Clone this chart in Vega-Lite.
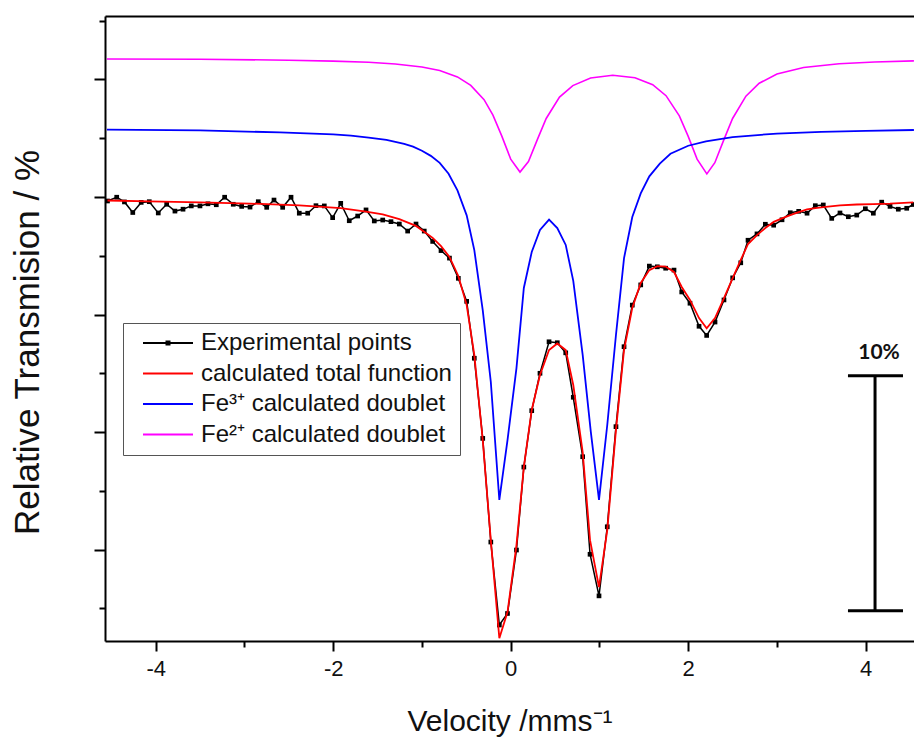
{
  "$schema": "https://vega.github.io/schema/vega-lite/v6.json",
  "width": 809,
  "height": 625,
  "autosize": "none",
  "padding": {"left": 105, "top": 16, "right": 0, "bottom": 106},
  "background": "white",
  "config": {
    "view": {"stroke": null},
    "font": "Liberation Sans",
    "legend": {
      "orient": "none", "legendX": 18, "legendY": 307,
      "fillColor": "white", "strokeColor": "#555555", "padding": 8,
      "symbolType": "stroke", "symbolSize": 2500, "symbolStrokeWidth": 2, "symbolOffset": 11,
      "labelFontSize": 24, "labelFont": "Liberation Sans", "labelColor": "#111111", "labelOffset": 7,
      "clipHeight": 24, "rowPadding": 6.5, "labelLimit": 400
    }
  },
  "datasets": {
    "exp": [
      {"v":-4.543,"t":99.83},{"v":-4.439,"t":99.99},{"v":-4.352,"t":99.79},{"v":-4.258,"t":99.34},{"v":-4.163,"t":99.77},{"v":-4.072,"t":99.80},{"v":-3.971,"t":99.32},{"v":-3.876,"t":99.69},{"v":-3.783,"t":99.40},{"v":-3.692,"t":99.48},{"v":-3.599,"t":99.62},{"v":-3.501,"t":99.62},{"v":-3.411,"t":99.71},{"v":-3.317,"t":99.67},{"v":-3.223,"t":99.99},{"v":-3.126,"t":99.69},{"v":-3.031,"t":99.60},{"v":-2.937,"t":99.57},{"v":-2.844,"t":99.80},{"v":-2.749,"t":99.56},{"v":-2.667,"t":99.87},{"v":-2.569,"t":99.56},{"v":-2.475,"t":99.99},{"v":-2.382,"t":99.31},{"v":-2.287,"t":99.31},{"v":-2.194,"t":99.63},{"v":-2.100,"t":99.62},{"v":-2.006,"t":99.12},{"v":-1.915,"t":99.73},{"v":-1.819,"t":98.99},{"v":-1.724,"t":99.19},{"v":-1.630,"t":99.45},{"v":-1.537,"t":98.98},{"v":-1.442,"t":99.02},{"v":-1.349,"t":98.95},{"v":-1.255,"t":98.85},{"v":-1.161,"t":98.55},{"v":-1.067,"t":98.85},{"v":-0.974,"t":98.55},{"v":-0.879,"t":98.11},{"v":-0.785,"t":97.72},{"v":-0.690,"t":97.40},{"v":-0.590,"t":96.54},{"v":-0.496,"t":95.56},{"v":-0.410,"t":93.14},{"v":-0.315,"t":89.73},{"v":-0.224,"t":85.32},{"v":-0.128,"t":81.79},{"v":-0.036,"t":82.28},{"v":0.065,"t":84.98},{"v":0.148,"t":88.51},{"v":0.237,"t":90.91},{"v":0.330,"t":92.50},{"v":0.432,"t":93.84},{"v":0.525,"t":93.80},{"v":0.620,"t":93.37},{"v":0.705,"t":91.48},{"v":0.811,"t":88.95},{"v":0.894,"t":84.80},{"v":0.995,"t":83.03},{"v":1.088,"t":85.97},{"v":1.186,"t":90.23},{"v":1.277,"t":93.63},{"v":1.370,"t":95.40},{"v":1.465,"t":96.26},{"v":1.562,"t":97.06},{"v":1.652,"t":97.03},{"v":1.746,"t":96.97},{"v":1.840,"t":96.89},{"v":1.927,"t":95.96},{"v":2.020,"t":95.48},{"v":2.122,"t":94.50},{"v":2.208,"t":94.11},{"v":2.302,"t":94.68},{"v":2.403,"t":95.62},{"v":2.501,"t":96.56},{"v":2.592,"t":97.20},{"v":2.674,"t":98.16},{"v":2.775,"t":98.43},{"v":2.869,"t":98.84},{"v":2.963,"t":98.80},{"v":3.057,"t":99.03},{"v":3.150,"t":99.33},{"v":3.245,"t":99.39},{"v":3.339,"t":99.31},{"v":3.432,"t":99.63},{"v":3.522,"t":99.66},{"v":3.617,"t":99.09},{"v":3.710,"t":99.32},{"v":3.804,"t":99.16},{"v":3.899,"t":99.23},{"v":3.996,"t":99.50},{"v":4.086,"t":99.31},{"v":4.180,"t":99.78},{"v":4.274,"t":99.60},{"v":4.367,"t":99.48},{"v":4.462,"t":99.52},{"v":4.536,"t":99.68}
    ],
    "tot": [
      {"v":-4.543,"t":99.85},{"v":-4.072,"t":99.81},{"v":-3.501,"t":99.77},{"v":-2.937,"t":99.72},{"v":-2.382,"t":99.64},{"v":-1.915,"t":99.53},{"v":-1.630,"t":99.38},{"v":-1.442,"t":99.26},{"v":-1.255,"t":99.06},{"v":-1.067,"t":98.77},{"v":-0.879,"t":98.26},{"v":-0.785,"t":97.91},{"v":-0.690,"t":97.45},{"v":-0.590,"t":96.64},{"v":-0.496,"t":95.40},{"v":-0.410,"t":93.28},{"v":-0.315,"t":89.66},{"v":-0.224,"t":85.40},{"v":-0.128,"t":81.23},{"v":-0.036,"t":82.34},{"v":0.065,"t":85.19},{"v":0.148,"t":88.51},{"v":0.237,"t":90.94},{"v":0.330,"t":92.43},{"v":0.432,"t":93.49},{"v":0.525,"t":93.77},{"v":0.620,"t":93.49},{"v":0.705,"t":92.00},{"v":0.811,"t":89.15},{"v":0.894,"t":85.40},{"v":0.995,"t":83.40},{"v":1.088,"t":85.83},{"v":1.186,"t":90.09},{"v":1.277,"t":93.49},{"v":1.370,"t":95.28},{"v":1.465,"t":96.34},{"v":1.562,"t":96.89},{"v":1.652,"t":97.06},{"v":1.746,"t":97.04},{"v":1.840,"t":96.81},{"v":1.927,"t":96.17},{"v":2.020,"t":95.62},{"v":2.122,"t":94.85},{"v":2.208,"t":94.41},{"v":2.302,"t":94.85},{"v":2.403,"t":95.70},{"v":2.501,"t":96.55},{"v":2.592,"t":97.32},{"v":2.674,"t":98.00},{"v":2.775,"t":98.38},{"v":2.869,"t":98.68},{"v":2.963,"t":98.94},{"v":3.057,"t":99.09},{"v":3.150,"t":99.23},{"v":3.245,"t":99.36},{"v":3.339,"t":99.47},{"v":3.432,"t":99.53},{"v":3.522,"t":99.57},{"v":3.710,"t":99.64},{"v":3.899,"t":99.68},{"v":4.086,"t":99.70},{"v":4.274,"t":99.72},{"v":4.536,"t":99.77}
    ],
    "fe3": [
      {"v":-4.549,"t":102.87},{"v":-3.5,"t":102.83},{"v":-2.6,"t":102.75},{"v":-2.0,"t":102.66},{"v":-1.8,"t":102.61},{"v":-1.6,"t":102.53},{"v":-1.4,"t":102.43},{"v":-1.2,"t":102.26},{"v":-1.1,"t":102.14},{"v":-1.0,"t":101.97},{"v":-0.9,"t":101.75},{"v":-0.8,"t":101.45},{"v":-0.7,"t":100.99},{"v":-0.6,"t":100.28},{"v":-0.496,"t":99.22},{"v":-0.410,"t":97.74},{"v":-0.315,"t":95.19},{"v":-0.224,"t":92.13},{"v":-0.128,"t":87.11},{"v":-0.036,"t":89.66},{"v":0.065,"t":92.72},{"v":0.148,"t":96.13},{"v":0.237,"t":97.66},{"v":0.330,"t":98.60},{"v":0.432,"t":99.04},{"v":0.525,"t":98.68},{"v":0.620,"t":97.96},{"v":0.705,"t":96.43},{"v":0.811,"t":93.28},{"v":0.903,"t":90.00},{"v":0.995,"t":87.11},{"v":1.088,"t":90.30},{"v":1.186,"t":94.13},{"v":1.277,"t":97.40},{"v":1.370,"t":99.15},{"v":1.465,"t":100.15},{"v":1.562,"t":100.88},{"v":1.68,"t":101.42},{"v":1.8,"t":101.84},{"v":2.0,"t":102.18},{"v":2.2,"t":102.37},{"v":2.5,"t":102.55},{"v":3.0,"t":102.70},{"v":3.5,"t":102.77},{"v":4.0,"t":102.81},{"v":4.543,"t":102.85}
    ],
    "fe2": [
      {"v":-4.549,"t":105.87},{"v":-3.5,"t":105.86},{"v":-2.5,"t":105.82},{"v":-2.0,"t":105.78},{"v":-1.6,"t":105.73},{"v":-1.3,"t":105.66},{"v":-1.0,"t":105.53},{"v":-0.8,"t":105.38},{"v":-0.6,"t":105.11},{"v":-0.45,"t":104.75},{"v":-0.3,"t":104.14},{"v":-0.2,"t":103.48},{"v":-0.1,"t":102.59},{"v":0.0,"t":101.61},{"v":0.105,"t":101.06},{"v":0.2,"t":101.51},{"v":0.3,"t":102.44},{"v":0.4,"t":103.34},{"v":0.55,"t":104.25},{"v":0.7,"t":104.74},{"v":0.9,"t":105.06},{"v":1.15,"t":105.18},{"v":1.4,"t":105.07},{"v":1.6,"t":104.78},{"v":1.75,"t":104.31},{"v":1.9,"t":103.45},{"v":2.0,"t":102.58},{"v":2.1,"t":101.61},{"v":2.21,"t":100.98},{"v":2.3,"t":101.46},{"v":2.4,"t":102.42},{"v":2.5,"t":103.34},{"v":2.65,"t":104.29},{"v":2.8,"t":104.84},{"v":3.0,"t":105.23},{"v":3.3,"t":105.51},{"v":3.7,"t":105.67},{"v":4.1,"t":105.74},{"v":4.543,"t":105.79}
    ],
    "barv": [{"v":4.105,"t":92.4,"t2":82.4}],
    "barh": [{"v":3.80,"v2":4.42,"t":92.4},{"v":3.80,"v2":4.42,"t":82.4}],
    "barlabel": [{"v":4.15,"t":93.36,"label":"10%"}]
  },
  "resolve": {"axis": {"x": "independent", "y": "independent"}},
  "layer": [
    {
      "data": {"name": "fe2"},
      "mark": {"type": "line", "strokeWidth": 1.6},
      "encoding": {
        "x": {"field": "v", "type": "quantitative",
              "scale": {"domain": [-4.571, 4.544], "nice": false, "zero": false},
              "axis": {"orient": "bottom", "values": [-4,-3,-2,-1,0,1,2,3,4],
                       "labelExpr": "datum.value % 2 === 0 ? '' + datum.value : ''",
                       "tickSize": {"condition": {"test": "datum.value % 2 === 0", "value": 10}, "value": 6},
                       "tickWidth": 2, "tickColor": "black", "domainColor": "black", "domainWidth": 2,
                       "labelFontSize": 22, "labelColor": "#111111", "labelFont": "Liberation Sans", "labelPadding": 7,
                       "grid": false, "title": "Velocity /mms⁻¹", "titleFontSize": 30, "titleFontWeight": "normal",
                       "titleColor": "#111111", "titleFont": "Liberation Sans", "titlePadding": 27}},
        "y": {"field": "t", "type": "quantitative",
              "scale": {"domain": [81.11, 107.70], "nice": false, "zero": false},
              "axis": {"orient": "left", "values": [82.5,85,87.5,90,92.5,95,97.5,100,102.5,105,107.5],
                       "labels": false,
                       "tickSize": {"condition": {"test": "datum.value % 5 === 0", "value": 11}, "value": 6},
                       "tickWidth": 2, "tickColor": "black", "domainColor": "black", "domainWidth": 2,
                       "grid": false, "title": "Relative Transmision / %", "titleFontSize": 35, "titleFontWeight": "normal",
                       "titleColor": "#111111", "titleFont": "Liberation Sans", "titlePadding": 48, "titleY": 326}},
        "color": {"datum": "Fe²⁺ calculated doublet",
                  "scale": {"domain": ["Experimental points", "calculated total function", "Fe³⁺ calculated doublet", "Fe²⁺ calculated doublet"],
                            "range": ["#000000", "#ff0000", "#0000ff", "#ff00ff"]},
                  "legend": {"title": null,
                             "encode": {"symbols": {"update": {"shape": {"signal": "datum.value === 'Experimental points' ? 'M-1,0H1M-0.06,-0.06H0.06V0.06H-0.06Z' : 'stroke'"}}}}}}
      }
    },
    {
      "data": {"name": "fe3"},
      "mark": {"type": "line", "strokeWidth": 1.8},
      "encoding": {
        "x": {"field": "v", "type": "quantitative", "axis": null},
        "y": {"field": "t", "type": "quantitative", "axis": null},
        "color": {"datum": "Fe³⁺ calculated doublet"}
      }
    },
    {
      "data": {"name": "exp"},
      "mark": {"type": "line", "strokeWidth": 1.5},
      "encoding": {
        "x": {"field": "v", "type": "quantitative", "axis": null},
        "y": {"field": "t", "type": "quantitative", "axis": null},
        "color": {"datum": "Experimental points"}
      }
    },
    {
      "data": {"name": "exp"},
      "mark": {"type": "point", "shape": "square", "filled": true, "size": 22, "opacity": 1, "color": "black"},
      "encoding": {
        "x": {"field": "v", "type": "quantitative", "axis": null},
        "y": {"field": "t", "type": "quantitative", "axis": null}
      }
    },
    {
      "data": {"name": "tot"},
      "mark": {"type": "line", "strokeWidth": 1.8},
      "encoding": {
        "x": {"field": "v", "type": "quantitative", "axis": null},
        "y": {"field": "t", "type": "quantitative", "axis": null},
        "color": {"datum": "calculated total function"}
      }
    },
    {
      "data": {"name": "barv"},
      "mark": {"type": "rule", "color": "black", "strokeWidth": 3},
      "encoding": {
        "x": {"field": "v", "type": "quantitative", "axis": null},
        "y": {"field": "t", "type": "quantitative", "axis": null},
        "y2": {"field": "t2"}
      }
    },
    {
      "data": {"name": "barh"},
      "mark": {"type": "rule", "color": "black", "strokeWidth": 3},
      "encoding": {
        "x": {"field": "v", "type": "quantitative",
              "axis": {"orient": "top", "labels": false, "ticks": false, "grid": false, "title": null,
                       "domainColor": "black", "domainWidth": 2}},
        "x2": {"field": "v2"},
        "y": {"field": "t", "type": "quantitative", "axis": null}
      }
    },
    {
      "data": {"name": "barlabel"},
      "mark": {"type": "text", "font": "Lato", "fontWeight": "bold", "fontSize": 21, "align": "center", "baseline": "middle", "color": "#111111"},
      "encoding": {
        "x": {"field": "v", "type": "quantitative", "axis": null},
        "y": {"field": "t", "type": "quantitative", "axis": null},
        "text": {"field": "label"}
      }
    }
  ]
}
